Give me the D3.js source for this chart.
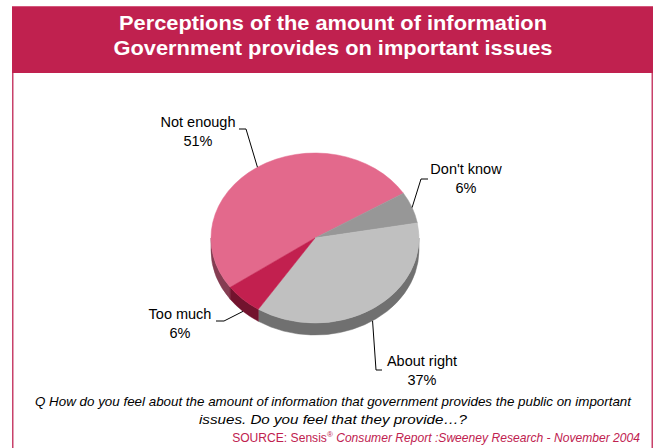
<!DOCTYPE html>
<html>
<head>
<meta charset="utf-8">
<script src="https://cdn.jsdelivr.net/npm/d3@7"></script>
<style>
  html, body { margin: 0; padding: 0; background: #ffffff; }
  svg { display: block; font-family: "Liberation Sans", Arial, sans-serif; }
</style>
</head>
<body>
<svg id="chart" width="658" height="448"></svg>
<script>
// Survey answers and their shares (%)
const categories = ["Not enough", "Don't know", "About right", "Too much"];
const values = [51, 6, 37, 6];
const sliceColors = ["#E3698C", "#979797", "#C0C0C0", "#C2204F"];

const titleLines = [
  "Perceptions of the amount of information",
  "Government provides on important issues"
];
const questionLines = [
  "Q How do you feel about the amount of information that government provides the public on important",
  "issues. Do you feel that they provide\u2026?"
];

const svg = d3.select("#chart");
const brand = "#C0214F";

// Frame and heading banner
svg.append("rect")
  .attr("x", 12.75).attr("y", 70).attr("width", 639.5).attr("height", 400)
  .attr("fill", "#fff").attr("stroke", "#C8416A").attr("stroke-width", 1.5);
svg.append("rect")
  .attr("x", 12).attr("y", 6).attr("width", 641).attr("height", 67)
  .attr("fill", brand);
svg.append("line")
  .attr("x1", 12).attr("x2", 653).attr("y1", 6.5).attr("y2", 6.5)
  .attr("stroke", "#D4587C").attr("stroke-width", 1);

const titleLens = [428, 439];
svg.selectAll("text.title").data(titleLines).join("text")
  .attr("class", "title")
  .attr("x", 333).attr("y", (d, i) => 30 + i * 25)
  .attr("text-anchor", "middle")
  .attr("fill", "#fff").attr("font-weight", "bold").attr("font-size", 21)
  .attr("textLength", (d, i) => titleLens[i]).attr("lengthAdjust", "spacingAndGlyphs")
  .text(d => d);

// 3-D pie geometry
const cx = 315, cy = 238, rx = 104, ry = 85, depth = 12;
const deg = Math.PI / 180;
const pt = (a, dy = 0) => [cx + rx * Math.sin(a), cy - ry * Math.cos(a) + dy];

const pie = d3.pie().sort(null).value(d => d.value)
  .startAngle(234.6 * deg).endAngle(234.6 * deg + 2 * Math.PI);
const arcs = pie(categories.map((c, i) => ({ name: c, value: values[i], color: sliceColors[i] })));

// Visible front wall of each slice (angles between 90° and 270°)
const sideG = svg.append("g");
arcs.forEach(s => {
  const ranges = [];
  for (let k = -1; k <= 1; k++) {
    const off = k * 2 * Math.PI;
    const lo = Math.max(s.startAngle, Math.PI / 2 + off);
    const hi = Math.min(s.endAngle, 1.5 * Math.PI + off);
    if (hi > lo) ranges.push([lo, hi]);
  }
  ranges.forEach(([a1, a2]) => {
    const p1 = pt(a1), p2 = pt(a2), q2 = pt(a2, depth), q1 = pt(a1, depth);
    const path = `M${p1}A${rx},${ry} 0 0 1 ${p2}L${q2}A${rx},${ry} 0 0 0 ${q1}Z`;
    sideG.append("path").attr("d", path)
      .attr("fill", d3.color(s.data.color).darker(1.5))
      .attr("stroke", d3.color(s.data.color).darker(1.5)).attr("stroke-width", 0.5);
  });
});

// Top faces
svg.append("g").selectAll("path").data(arcs).join("path")
  .attr("d", s => {
    const p1 = pt(s.startAngle), p2 = pt(s.endAngle);
    const large = (s.endAngle - s.startAngle) > Math.PI ? 1 : 0;
    return `M${cx},${cy}L${p1}A${rx},${ry} 0 ${large} 1 ${p2}Z`;
  })
  .attr("fill", s => s.data.color)
  .attr("stroke", s => s.data.color).attr("stroke-width", 0.5);

// Labels with leader lines
const labelLayout = {
  "Not enough":  { x: 198, y: 127, elbow: [[239, 129], [246, 129]] },
  "Don't know":  { x: 466, y: 174, elbow: [[428, 179], [421, 179]] },
  "About right": { x: 422, y: 366, elbow: [[382, 370], [376, 370]] },
  "Too much":    { x: 180, y: 319, elbow: [[216, 321], [224, 321]] }
};
const labelG = svg.append("g");
arcs.forEach(s => {
  const L = labelLayout[s.data.name];
  const mid = (s.startAngle + s.endAngle) / 2;
  const m = ((mid % (2 * Math.PI)) + 2 * Math.PI) % (2 * Math.PI);
  const front = m > Math.PI / 2 && m < 1.5 * Math.PI;
  const end = pt(mid, front ? depth : 0);
  labelG.append("path")
    .attr("d", d3.line()([...L.elbow, end]))
    .attr("fill", "none").attr("stroke", "#000").attr("stroke-width", 1);
  const t = labelG.append("text")
    .attr("x", L.x).attr("y", L.y).attr("text-anchor", "middle")
    .attr("font-size", 14.5).attr("fill", "#000");
  t.append("tspan").attr("x", L.x).text(s.data.name);
  t.append("tspan").attr("x", L.x).attr("dy", 18.5).text(s.data.value + "%");
});

// Question text
const qLens = [596, 268];
svg.selectAll("text.q").data(questionLines).join("text")
  .attr("class", "q")
  .attr("x", 333).attr("y", (d, i) => 406 + i * 18)
  .attr("text-anchor", "middle").attr("font-style", "italic")
  .attr("font-size", 13.2).attr("fill", "#000")
  .attr("textLength", (d, i) => qLens[i]).attr("lengthAdjust", "spacingAndGlyphs")
  .text(d => d);

// Source note
const src = svg.append("text")
  .attr("x", 640).attr("y", 442).attr("text-anchor", "end")
  .attr("font-size", 12.1).attr("fill", brand);
src.append("tspan").text("SOURCE: Sensis");
src.append("tspan").attr("font-size", 8).attr("dy", -5).text("\u00AE");
src.append("tspan").attr("dy", 5).attr("font-style", "italic")
  .text(" Consumer Report :Sweeney Research - November 2004");
</script>
</body>
</html>
